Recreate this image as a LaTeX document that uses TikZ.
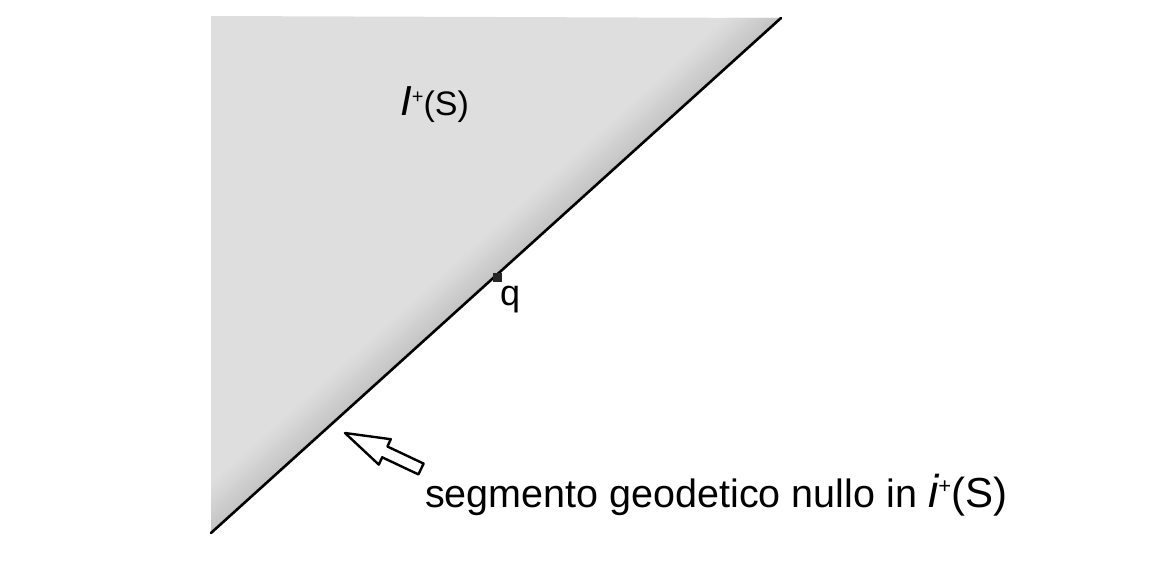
\documentclass[tikz,border=0pt]{standalone}
\usepackage{fontspec}
\setmainfont{Liberation Sans}
\usetikzlibrary{calc}
\begin{document}
\begin{tikzpicture}[x=1pt,y=-1pt,
  lbl/.style={inner sep=0pt, anchor=base west, font=\fontsize{39.5}{44}\selectfont},
  qmark/.style={fill=black!85, minimum size=9pt, inner sep=0pt},
  hollowarrow/.style={draw=black, line width=2.4pt, line join=round, fill=white}]
\useasboundingbox (0,0) rectangle (1154,573);
\fill[white] (0,0) rectangle (1154,573);
% coordinates
\coordinate (bl) at (211,533);
\coordinate (tl) at (211,16);
\coordinate (tr) at (781,18);
% region I+(S)
\fill[black!13] (tl) -- (bl) -- (tr) -- cycle;
\begin{scope}
  \clip (tl) -- (bl) -- (tr) -- cycle;
  \foreach \k in {0,...,11}{
    \pgfmathsetmacro{\c}{23-0.85*\k}
    \pgfmathsetmacro{\o}{1.5+3*\k}
    \draw[line width=3.2pt, black!\c]
      ($(bl)+(-0.670*\o,-0.742*\o)+(-40*0.742,40*0.670)$) --
      ($(tr)+(-0.670*\o,-0.742*\o)+(40*0.742,-40*0.670)$);
  }
\end{scope}
% null geodesic
\draw[line width=2.6pt, line cap=round] (bl) -- (tr);
% point q
\node[qmark] (q) at (497,277) {};
\node[lbl, font=\fontsize{36}{40}\selectfont] (qlabel) at (500,305) {q};
% label I+(S)
\node[lbl, font=\fontsize{34}{38}\selectfont] (Ilabel) at (400,115) {{\fontsize{42}{44}\selectfont\itshape I}\raisebox{12pt}{\fontsize{20}{20}\selectfont +}(S)};
% arrow
\coordinate (tip) at (345,433);
\draw[hollowarrow] (tip) -- (390.8,439.2) -- (387.4,446.5) -- (423.6,463.6)
   -- (418.4,474.4) -- (382.2,457.3) -- (378.8,464.6) -- cycle;
% caption
\node[lbl] (caption) at (425,507) {segmento geodetico nullo in {\fontsize{46}{48}\selectfont\itshape i}\raisebox{14pt}{\fontsize{22}{22}\selectfont +}{\fontsize{42}{44}\selectfont(S)}};
\end{tikzpicture}
\end{document}
